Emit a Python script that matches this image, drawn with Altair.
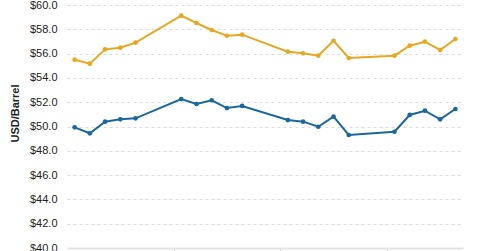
import altair as alt
import pandas as pd

dates = [
    "2019-08-05", "2019-08-06", "2019-08-07", "2019-08-08", "2019-08-09",
    "2019-08-12", "2019-08-13", "2019-08-14", "2019-08-15", "2019-08-16",
    "2019-08-19", "2019-08-20", "2019-08-21", "2019-08-22", "2019-08-23",
    "2019-08-26", "2019-08-27", "2019-08-28", "2019-08-29", "2019-08-30",
]
brent = [55.50, 55.17, 56.35, 56.49, 56.90,
         59.12, 58.52, 57.94, 57.47, 57.56,
         56.16, 56.02, 55.83, 57.06, 55.64,
         55.83, 56.65, 56.98, 56.30, 57.20]
wti = [49.93, 49.44, 50.40, 50.59, 50.67,
       52.26, 51.85, 52.16, 51.52, 51.69,
       50.53, 50.40, 49.98, 50.81, 49.30,
       49.57, 50.95, 51.30, 50.59, 51.44]
series_names = ["Brent", "WTI"]
series_colors = ["#E6A823", "#1A679D"]

rows = []
for d, b, w in zip(dates, brent, wti):
    rows.append({"date": d + "T12:00:00Z", "series": "Brent", "price": b})
    rows.append({"date": d + "T12:00:00Z", "series": "WTI", "price": w})
df = pd.DataFrame(rows)

x = alt.X(
    "date:T",
    scale=alt.Scale(
        type="utc",
        domain=[alt.DateTime(year=2019, month=8, date=5, utc=True),
                alt.DateTime(year=2019, month=8, date=31, utc=True)],
    ),
    axis=alt.Axis(
        title=None, labels=False, grid=False,
        values=[alt.DateTime(year=2019, month=8, date=d, utc=True) for d in (12, 19, 26)],
        domainColor="#e3e3e3", domainWidth=2, tickColor="#d0d0d0", tickSize=4,
    ),
)
y = alt.Y(
    "price:Q",
    scale=alt.Scale(domain=[40, 60], nice=False, zero=False),
    axis=alt.Axis(
        title="USD/Barrel", values=[40, 42, 44, 46, 48, 50, 52, 54, 56, 58, 60],
        format="$.1f", labelFont="Liberation Sans", labelFontSize=11, labelColor="#222",
        labelPadding=10, ticks=False, domain=False,
        grid=True, gridDash=[3, 3], gridColor="#dcdcdc", gridWidth=1,
        titleFont="Liberation Sans", titleFontSize=11, titleFontWeight="bold",
        titleColor="#222", titleX=-47, titleY=108, titleAngle=-90,
    ),
)
color = alt.Color("series:N", scale=alt.Scale(domain=series_names, range=series_colors), legend=None)

base = alt.Chart(df).encode(x=x, y=y, color=color)
lines = base.mark_line(strokeWidth=2)
points = base.mark_point(filled=True, size=22, opacity=1)

chart = (lines + points).properties(
    width=396, height=243,
    autosize=alt.AutoSizeParams(type="none"),
    padding={"left": 67, "top": 5, "right": 17, "bottom": 3},
).configure_view(stroke=None)

chart.save("out.html", embed_options={"renderer": "svg", "actions": False})
